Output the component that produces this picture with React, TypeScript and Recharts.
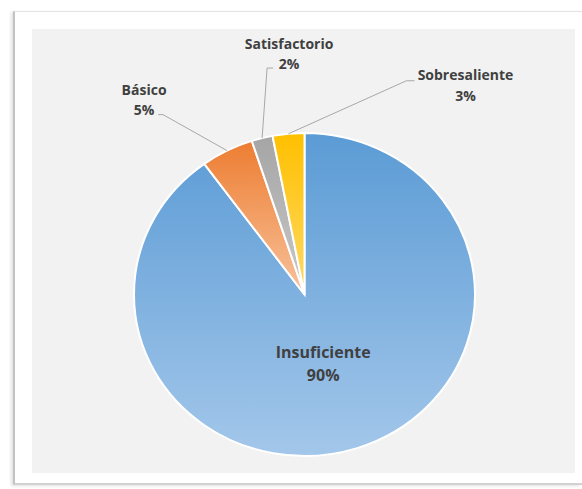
import React from 'react';
import { PieChart, Pie, Cell } from 'recharts';

const categories = ['Insuficiente', 'Básico', 'Satisfactorio', 'Sobresaliente'];
const values = [90, 5, 2, 3];
const percentLabels = ['90%', '5%', '2%', '3%'];

const data = categories.map((name, i) => ({ name, value: values[i], pct: percentLabels[i] }));

const gradients = [
  { id: 'gBlue', top: '#5b9bd5', bottom: '#a3c7ea' },
  { id: 'gOrange', top: '#ed7d31', bottom: '#f8c29c' },
  { id: 'gGray', top: '#a5a5a5', bottom: '#c9c9c9' },
  { id: 'gYellow', top: '#ffc000', bottom: '#ffd966' },
];

// the reference is slightly squashed vertically
const Y_SCALE = 0.947;

// label layout (offsets relative to the slice's outer mid point)
const outsideLayout: Record<number, { elbow: [number, number]; end: [number, number]; text: [number, number]; gap: number }> = {
  1: { elbow: [-64, -38], end: [-69, -38], text: [-83, -64], gap: 21 },
  2: { elbow: [5, -74], end: [11, -74], text: [27, -100], gap: 21 },
  3: { elbow: [118, -56], end: [126, -56], text: [177, -62], gap: 22 },
};

const textColor = '#404040';
const fontFamily = '"Open Sans", sans-serif';

const renderLabel = (props: any) => {
  const { cx, cy, midAngle, outerRadius, index } = props;
  const RAD = Math.PI / 180;
  const c = Math.cos(-midAngle * RAD);
  const s = Math.sin(-midAngle * RAD);
  const d = data[index];
  if (index === 0) {
    const r = outerRadius * 0.45;
    const x = cx + r * c - 5;
    const y = cy + r * s;
    return (
      <g key={`lbl-${index}`}>
        <text x={x} y={y - 12} textAnchor="middle" dominantBaseline="central" fill={textColor} fontFamily={fontFamily} fontWeight={700} fontSize={16}>
          {d.name}
        </text>
        <text x={x} y={y + 12} textAnchor="middle" dominantBaseline="central" fill={textColor} fontFamily={fontFamily} fontWeight={700} fontSize={16}>
          {d.pct}
        </text>
      </g>
    );
  }
  const L = outsideLayout[index];
  const ox = cx + outerRadius * c;
  const oy = cy + outerRadius * s;
  const ex = ox + L.elbow[0];
  const ey = oy + L.elbow[1];
  const fx = ox + L.end[0];
  const fy = oy + L.end[1];
  const tx = ox + L.text[0];
  const ty = oy + L.text[1];
  return (
    <g key={`lbl-${index}`}>
      <polyline points={`${ox},${oy} ${ex},${ey} ${fx},${fy}`} fill="none" stroke="#a6a6a6" strokeWidth={1} />
      <text x={tx} y={ty} textAnchor="middle" dominantBaseline="central" fill={textColor} fontFamily={fontFamily} fontWeight={700} fontSize={14}>
        {d.name}
      </text>
      <text x={tx} y={ty + L.gap} textAnchor="middle" dominantBaseline="central" fill={textColor} fontFamily={fontFamily} fontWeight={700} fontSize={14}>
        {d.pct}
      </text>
    </g>
  );
};

export default function App() {
  return (
    <div style={{ position: 'fixed', left: 0, top: 0, width: 582, height: 489, background: '#ffffff' }}>
      <div
        style={{
          position: 'absolute',
          left: 13,
          top: 11,
          width: 569,
          height: 474,
          background: '#ffffff',
          borderLeft: '2px solid #c2c2c2',
          borderTop: '1px solid #e4e4e4',
          borderBottom: '2px solid #d2d2d2',
          boxShadow: '-2px 1px 3px rgba(0,0,0,0.12)',
          boxSizing: 'border-box',
        }}
      />
      <div style={{ position: 'absolute', left: 32, top: 29, width: 543, height: 444, background: '#f2f2f2' }} />
      <div style={{ position: 'absolute', left: 0, top: 0, width: 582, height: 489, overflow: 'hidden' }}>
        <div style={{ transform: `scaleY(${Y_SCALE})`, transformOrigin: '0 0' }}>
          <PieChart width={582} height={516} margin={{ top: 0, right: 0, bottom: 0, left: 0 }}>
            <defs>
              {gradients.map((g) => (
                <linearGradient key={g.id} id={g.id} x1="0" y1="0" x2="0" y2="1">
                  <stop offset="0%" stopColor={g.top} />
                  <stop offset="100%" stopColor={g.bottom} />
                </linearGradient>
              ))}
            </defs>
            <Pie
              data={data}
              dataKey="value"
              nameKey="name"
              cx={304.5}
              cy={311}
              outerRadius={170.5}
              startAngle={90}
              endAngle={-270}
              stroke="#ffffff"
              strokeWidth={2}
              label={renderLabel}
              labelLine={false}
              isAnimationActive={false}
            >
              {data.map((d, i) => (
                <Cell key={d.name} fill={`url(#${gradients[i].id})`} />
              ))}
            </Pie>
          </PieChart>
        </div>
      </div>
    </div>
  );
}
